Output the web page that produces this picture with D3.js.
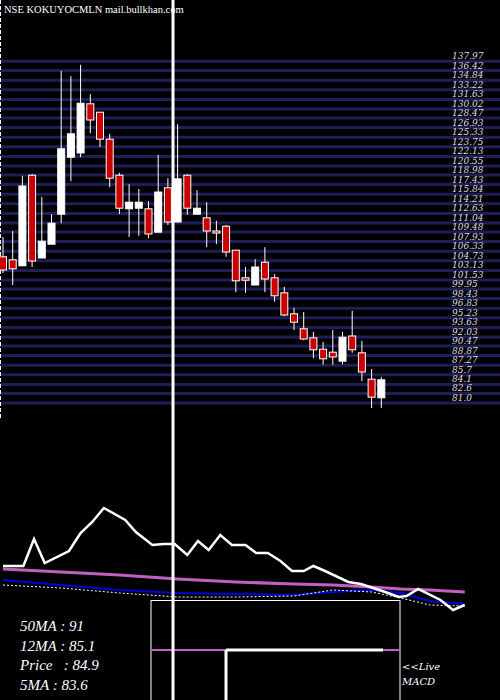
<!DOCTYPE html>
<html><head><meta charset="utf-8">
<script src="https://cdn.jsdelivr.net/npm/d3@7"></script>
<style>body{margin:0;background:#000}svg{display:block}</style>
</head><body><svg id="c" width="500" height="700"></svg>
<script>
const opens  = [105.2,104.7,103.7,118.8,105.0,107.3,112.3,121.8,122.5,130.7,129.3,124.8,118.8,113.2,113.3,113.2,109.3,116.7,111.0,118.8,112.3,111.7,109.5,110.3,106.3,101.7,100.5,104.3,101.7,99.2,95.7,93.2,91.7,89.8,89.3,87.8,92.0,89.2,84.8,81.7];
const highs  = [108.5,109.5,118.7,119.0,115.2,112.3,136.2,135.3,137.2,132.3,129.3,125.7,119.2,117.3,116.5,114.5,122.2,118.3,127.3,119.0,116.3,114.3,111.2,110.5,106.3,103.5,104.8,106.8,102.3,100.2,96.7,96.0,92.7,91.0,93.0,92.7,96.2,91.2,86.5,85.2];
const lows   = [102.5,100.5,103.7,103.5,105.0,107.3,110.8,117.8,121.8,125.8,123.5,116.8,112.3,108.5,108.7,108.3,109.3,110.5,111.0,112.2,112.3,106.8,107.3,105.2,99.3,99.2,100.5,99.3,97.7,95.3,93.0,91.3,88.3,87.2,87.2,87.3,89.2,84.5,80.0,80.0];
const closes = [103.0,103.2,117.0,104.5,107.8,110.8,123.2,125.7,130.8,128.0,124.8,118.3,113.3,114.3,114.3,109.0,116.0,111.0,118.2,113.3,113.3,109.5,109.3,106.0,101.2,101.3,103.5,101.5,98.7,95.5,94.3,91.5,89.7,88.2,88.5,91.8,89.7,86.0,81.8,84.7];
const priceTicks = [137.97,136.4,134.8,133.2,131.6,130.0,128.5,126.9,125.3,123.7,122.1,120.5,119.0,117.4,115.8,114.2,112.6,111.0,109.5,107.9,106.3,104.7,103.1,101.5,100.0,98.4,96.8,95.2,93.6,92.0,90.5,88.9,87.3,85.7,84.1,82.6,81.0];
const tickLabels = ["137.97","136.42","134.84","133.22","131.63","130.02","128.47","126.93","125.33","123.75","122.13","120.55","118.98","117.43","115.84","114.21","112.63","111.04","109.48","107.93","106.33","104.73","103.13","101.53","99.95","98.43","96.83","95.23","93.63","92.03","90.47","88.87","87.27","85.7","84.1","82.6","81.0"];
const whiteIdx = [0,2.1,3.2,4.3,6.8,8.0,9.2,10.4,12.6,13.7,15.4,16.5,17.7,19.0,20.1,21.2,22.4,23.6,25.0,26.1,27.3,28.6,29.8,31.0,32.0,33.2,35.6,36.9,39.4,40.8,41.6,42.8,45.1,46.4,47.6];
const whiteVal = [54,54,81,57,69,87,98,112,100,88,75,76,76,65,79,70,85,75,75,67,67,59,49,49,54,49,38,36,28,23,24,31,20,10,15];
const maIdx    = [0,6,12,18,24,30,34,38,41,44,47.6];
const pinkVal  = [51,48,45,41,38,36,35,33,31,30,28];
const blueVal  = [40,35,30,27,26,25,28,30,27,19,16];
const dotVal   = [35,32,27,23,23,24,30,28,22,15,14];
const legend = ["50MA : 91","12MA : 85.1","Price   : 84.9","5MA : 83.6"];

const svg = d3.select("#c");
svg.append("rect").attr("width",500).attr("height",700).attr("fill","#000");
const x = d3.scaleLinear().domain([0,1]).range([3,12.7]);
const y = d3.scaleLinear().domain([138,80]).range([60,408]);
const yi = d3.scaleLinear().domain([0,120]).range([620,500]);

// grid
svg.selectAll("line.g").data(priceTicks).enter().append("line")
  .attr("x1",0).attr("x2",500).attr("y1",d=>y(d)+1).attr("y2",d=>y(d)+1)
  .attr("stroke","#1e1e5a").attr("stroke-width",3);
svg.selectAll("text.t").data(tickLabels).enter().append("text")
  .attr("x",452).attr("y",(d,i)=>y(priceTicks[i])-1)
  .attr("fill","#ddd").attr("font-family","DejaVu Serif").attr("font-style","italic")
  .attr("font-size",i=>9).text(d=>d);
svg.append("line").attr("x1",0.5).attr("x2",0.5).attr("y1",0).attr("y2",420)
  .attr("stroke","#fff").attr("stroke-dasharray","4,2");

// candles
const data = opens.map((o,i)=>({o,h:highs[i],l:lows[i],c:closes[i]}));
const g = svg.append("g");
g.selectAll("line.w").data(data).enter().append("line")
  .attr("x1",(d,i)=>x(i)).attr("x2",(d,i)=>x(i))
  .attr("y1",d=>y(d.h)).attr("y2",d=>y(d.l)).attr("stroke","#fff").attr("stroke-width",1);
g.selectAll("rect").data(data).enter().append("rect")
  .attr("x",(d,i)=>x(i)-3.5).attr("width",7)
  .attr("y",d=>y(Math.max(d.o,d.c))).attr("height",d=>Math.max(2,Math.abs(y(d.o)-y(d.c))))
  .attr("fill",d=>d.c>=d.o?"#fff":"#cc0000").attr("stroke","#fff").attr("stroke-width",1);

// indicator lines
const ln = (vals)=>d3.line().x((d,i)=>x(maIdx[i])).y(d=>yi(d))(vals);
svg.append("path").attr("d",ln(pinkVal)).attr("fill","none").attr("stroke","#c060c0").attr("stroke-width",3);
svg.append("path").attr("d",ln(blueVal)).attr("fill","none").attr("stroke","#0000dd").attr("stroke-width",2);
svg.append("path").attr("d",ln(dotVal)).attr("fill","none").attr("stroke","#fff").attr("stroke-width",1).attr("stroke-dasharray","2,2");
svg.append("path").attr("d",d3.line().x((d,i)=>x(whiteIdx[i])).y(d=>yi(d))(whiteVal))
  .attr("fill","none").attr("stroke","#fff").attr("stroke-width",2.5);

// MACD box
svg.append("rect").attr("x",151).attr("y",600.5).attr("width",249).attr("height",110)
  .attr("fill","none").attr("stroke","#fff").attr("stroke-width",1);
svg.append("line").attr("x1",151).attr("x2",400).attr("y1",650).attr("y2",650).attr("stroke","#c060c0").attr("stroke-width",2);
svg.append("line").attr("x1",226).attr("x2",383).attr("y1",650).attr("y2",650).attr("stroke","#fff").attr("stroke-width",3);
svg.append("line").attr("x1",226).attr("x2",226).attr("y1",650).attr("y2",700).attr("stroke","#fff").attr("stroke-width",3);
svg.append("text").attr("x",402).attr("y",670).attr("fill","#fff").attr("font-family","DejaVu Serif").attr("font-style","italic").attr("font-size",10).text("<<Live");
svg.append("text").attr("x",402).attr("y",685).attr("fill","#fff").attr("font-family","DejaVu Serif").attr("font-style","italic").attr("font-size",10).text("MACD");

// vertical line
svg.append("line").attr("x1",173).attr("x2",173).attr("y1",0).attr("y2",700).attr("stroke","#fff").attr("stroke-width",3);

// legend
svg.selectAll("text.l").data(legend).enter().append("text")
  .attr("x",20).attr("y",(d,i)=>631+i*19.5).attr("fill","#fff")
  .attr("font-family","Liberation Serif").attr("font-style","italic").attr("font-size",15)
  .attr("xml:space","preserve").style("white-space","pre").text(d=>d);

svg.append("text").attr("x",4).attr("y",13).attr("fill","#fff").attr("font-family","Liberation Serif").attr("font-size",10.5)
  .text("NSE KOKUYOCMLN mail.bullkhan.com");
</script></body></html>
